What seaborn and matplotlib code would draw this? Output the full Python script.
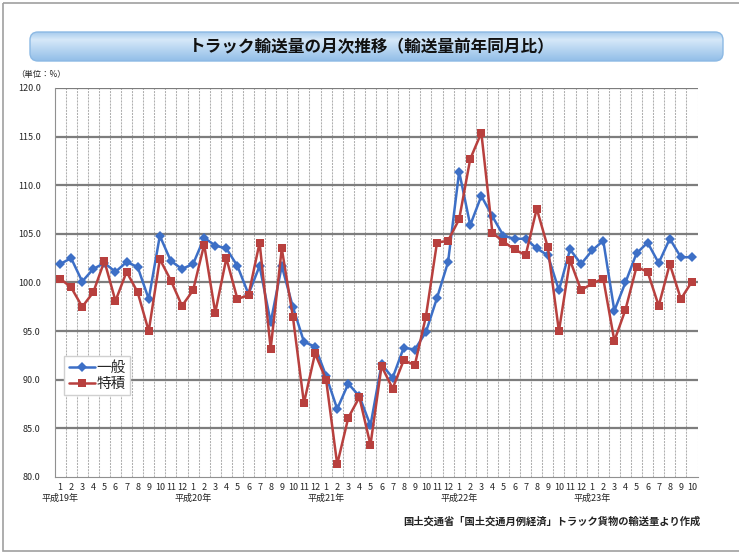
import matplotlib
matplotlib.use('Agg')
import matplotlib.pyplot as plt
import matplotlib.transforms as mtransforms
from matplotlib.patches import FancyBboxPatch, Rectangle
import seaborn as sns
import numpy as np
import pandas as pd

# Data: monthly truck transport volume, year-on-year ratio (%)
years = ['平成19年', '平成20年', '平成21年', '平成22年', '平成23年']
months_per_year = [12, 12, 12, 12, 10]

ippan = [
    101.9, 102.5, 100.1, 101.4, 102.0, 101.1, 102.1, 101.6, 98.3, 104.8, 102.2, 101.4,   # H19
    101.9, 104.6, 103.8, 103.5, 101.7, 98.8, 101.7, 95.9, 101.7, 97.5, 93.9, 93.4,       # H20
    90.4, 87.0, 89.6, 88.3, 85.3, 91.6, 90.2, 93.3, 93.1, 94.9, 98.4, 102.1,             # H21
    111.4, 105.9, 108.9, 106.8, 104.8, 104.5, 104.5, 103.5, 102.8, 99.2, 103.4, 101.9,   # H22
    103.3, 104.3, 97.1, 100.0, 103.0, 104.1, 102.0, 104.5, 102.6, 102.6,                # H23
]
tokuseki = [
    100.4, 99.5, 97.5, 99.0, 102.2, 98.1, 101.1, 99.0, 95.0, 102.4, 100.2, 97.6,
    99.2, 103.9, 96.9, 102.5, 98.3, 98.7, 104.1, 93.2, 103.5, 96.5, 87.6, 92.7,
    90.0, 81.3, 86.1, 88.2, 83.3, 91.4, 89.1, 92.0, 91.5, 96.5, 104.1, 104.3,
    106.5, 112.7, 115.4, 105.1, 104.2, 103.4, 102.8, 107.6, 103.6, 95.0, 102.3, 99.2,
    99.9, 100.4, 94.0, 97.2, 101.6, 101.1, 97.6, 101.9, 98.3, 100.1,
]
series_names = ['一般', '特積']

# month tick labels and year positions
month_labels = []
year_starts = []
for n in months_per_year:
    year_starts.append(len(month_labels))
    month_labels += [str(m) for m in range(1, n + 1)]
idx = np.arange(len(month_labels))

df = pd.DataFrame({
    'idx': np.concatenate([idx, idx]),
    'value': ippan + tokuseki,
    'series': [series_names[0]] * len(ippan) + [series_names[1]] * len(tokuseki),
})

sns.set_style('white')
plt.rcParams['font.family'] = ['Noto Sans CJK JP', 'DejaVu Sans']

W, H = 739, 554
fig = plt.figure(figsize=(W / 100, H / 100), dpi=100)

# overlay axes in pixel coordinates for decorations
bax = fig.add_axes([0, 0, 1, 1])
bax.set_xlim(0, W)
bax.set_ylim(H, 0)
bax.axis('off')

# scanned slide frame
bax.add_patch(Rectangle((3, 3), W + 10, 548, fill=False, edgecolor='#a0a0a0', lw=1.2))

# title banner with gradient
banner = FancyBboxPatch((30, 32), 693, 29, boxstyle='round,pad=0,rounding_size=8',
                        facecolor='none', edgecolor='#8cb9e4', lw=1.0, transform=bax.transData)
grad = np.concatenate([np.linspace(0.35, 1.0, 8), np.linspace(1.0, 0.0, 22)])[:, None]
cmap = matplotlib.colors.LinearSegmentedColormap.from_list('bn', ['#93bfe8', '#d4e7f8'])
im = bax.imshow(grad, extent=(30, 723, 61, 32), cmap=cmap, aspect='auto', zorder=1)
im.set_clip_path(banner)
bax.add_patch(banner)
bax.text(372, 47, 'トラック輸送量の月次推移（輸送量前年同月比）', ha='center', va='center',
         fontsize=12, fontweight='bold', color='#111111', zorder=3)

bax.text(16, 74, '（単位：%）', ha='left', va='center', fontsize=6, color='#222222')
bax.text(700, 522, '国土交通省「国土交通月例経済」トラック貨物の輸送量より作成', ha='right',
         va='center', fontsize=7.4, fontweight='bold', color='#222222')

# main chart
ax = fig.add_axes([54.5 / W, 1 - 477 / H, 643 / W, 389 / H])
ax.set_facecolor('white')
sns.lineplot(data=df, x='idx', y='value', hue='series', style='series',
             hue_order=series_names, style_order=series_names,
             palette={'一般': '#3d6fc6', '特積': '#b8403e'},
             markers={'一般': 'D', '特積': 's'}, dashes=False,
             markersize=5.5, linewidth=1.8, markeredgewidth=0, ax=ax, zorder=5)
# squares a touch larger than the diamonds
for line in ax.get_lines():
    if line.get_marker() == 's':
        line.set_markersize(6.2)

ax.set_xlim(-0.5, len(month_labels) - 0.5)
ax.set_ylim(80, 120)
ax.set_yticks(np.arange(80, 121, 5))
ax.set_yticklabels([f'{v:.1f}' for v in np.arange(80, 121, 5)], fontsize=6.5)
ax.set_xticks(idx)
ax.set_xticklabels(month_labels, fontsize=6.5)
ax.set_xticks(idx[:-1] + 0.5, minor=True)
ax.tick_params(axis='x', which='major', length=0, pad=4)
ax.tick_params(axis='x', which='minor', length=4, direction='inout', color='#909090', width=0.7)
ax.tick_params(axis='y', length=3, pad=7, color='#909090', width=0.7)
ax.set_xlabel('')
ax.set_ylabel('')

# grid: thick grey horizontal, light dashed vertical
for v in np.arange(85, 121, 5):
    ax.axhline(v, color='#7d7d7d', lw=1.6, zorder=2)
for x in idx[:-1] + 0.5:
    ax.axvline(x, color='#b0b0b0', lw=0.75, ls=(0, (2, 1)), zorder=1)
ax.axvline(len(month_labels) - 0.5, color='#b0b0b0', lw=0.75, ls=(0, (2, 1)), zorder=1)

for s in ['top', 'right']:
    ax.spines[s].set_visible(False)
ax.spines['left'].set_color('#909090')
ax.spines['left'].set_linewidth(0.8)
ax.spines['bottom'].set_color('#909090')
ax.spines['bottom'].set_linewidth(0.8)

# year labels under month 1 of each year
trans = mtransforms.blended_transform_factory(ax.transData, ax.transAxes)
for yname, start in zip(years, year_starts):
    ax.text(start, -0.054, yname, transform=trans, ha='center', va='center',
            fontsize=6.5, color='#222222')

leg = ax.legend(loc='lower left', bbox_to_anchor=(0.015, 0.21), fontsize=10.5,
                frameon=True, fancybox=False, handlelength=1.8, handletextpad=0.1,
                borderpad=0.3, labelspacing=0.15, borderaxespad=0, title=None)
leg.get_frame().set_edgecolor('#d0d0d0')
leg.get_frame().set_facecolor('white')
leg.get_frame().set_alpha(1)
leg.set_zorder(10)

fig.savefig('out.png', dpi=100)
